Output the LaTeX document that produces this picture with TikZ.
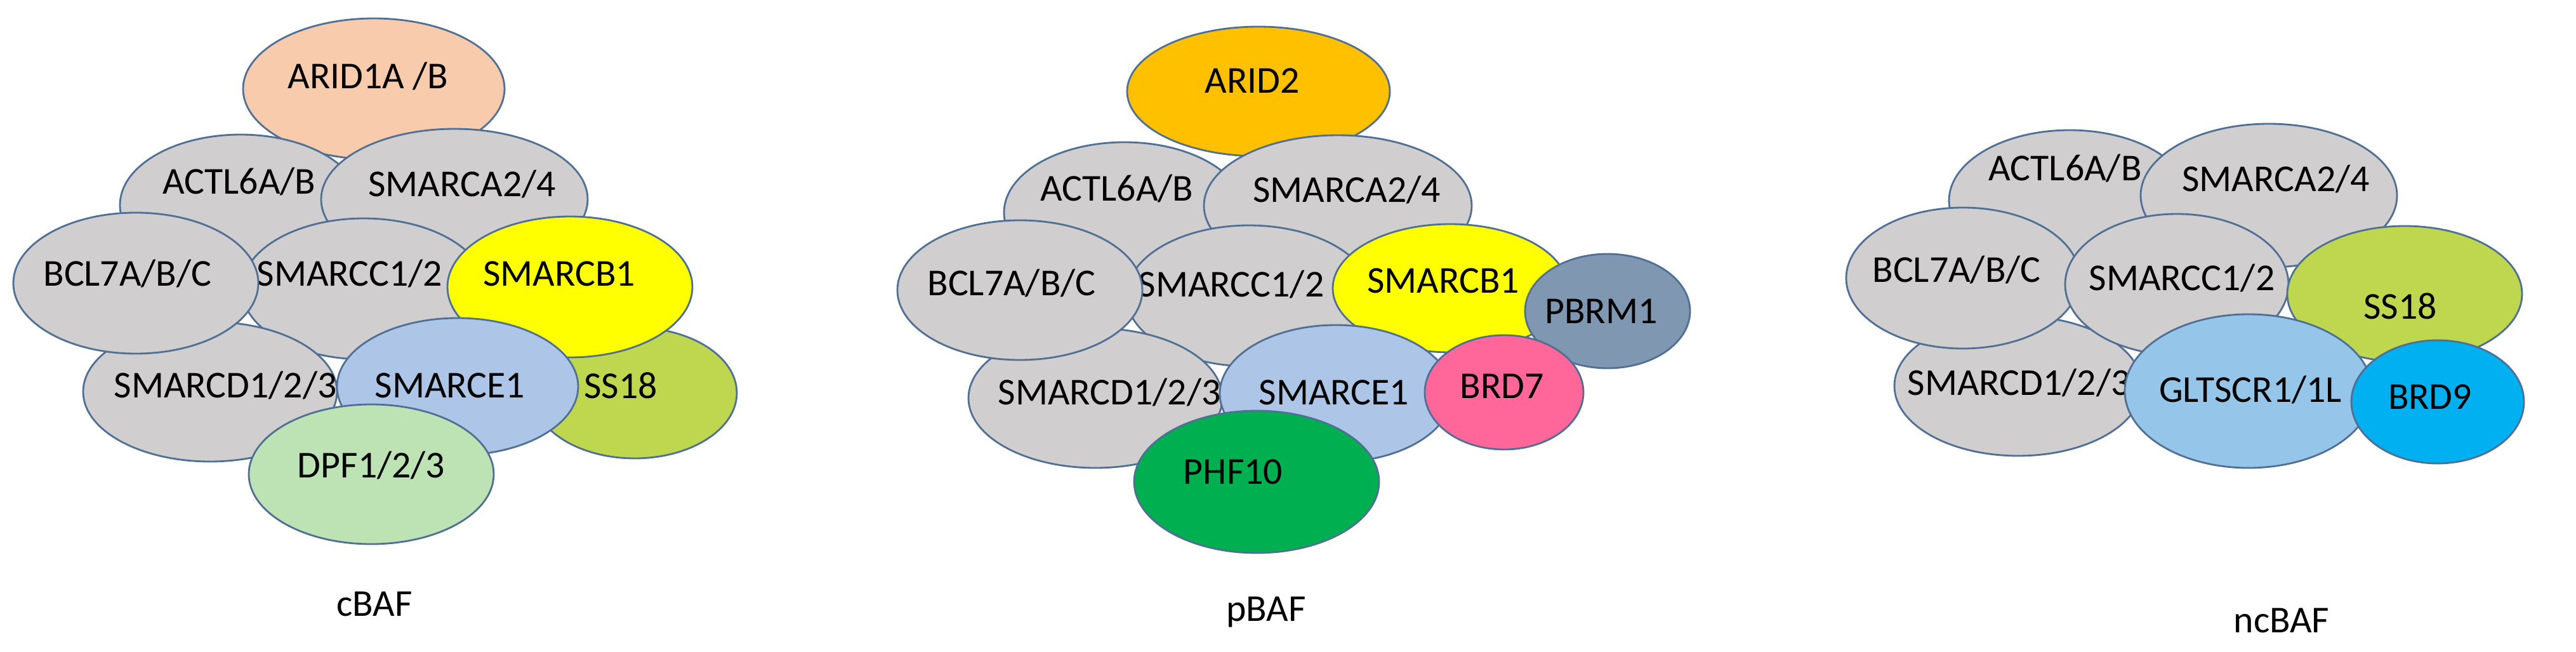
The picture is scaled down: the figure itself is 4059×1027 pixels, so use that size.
\documentclass[tikz,border=0pt]{standalone}
\usepackage{fontspec}
\setmainfont{Carlito}
\definecolor{gr}{HTML}{D0CECE}
\definecolor{ln}{HTML}{4F6F94}
\definecolor{arida}{HTML}{F8CBAD}
\definecolor{aridb}{HTML}{FFC000}
\definecolor{sb}{HTML}{FFFF00}
\definecolor{se}{HTML}{ADC6E8}
\definecolor{ss}{HTML}{BFD74E}
\definecolor{dpf}{HTML}{BDE3B5}
\definecolor{pb}{HTML}{7F97B0}
\definecolor{brds}{HTML}{FF6699}
\definecolor{phf}{HTML}{00B050}
\definecolor{gl}{HTML}{95C6EA}
\definecolor{brdn}{HTML}{00B0F0}
\tikzset{blob/.style={draw=ln,line width=0.8pt},
  lab/.style={font=\fontsize{17}{20}\selectfont,inner sep=0pt}}
\newcommand{\blb}[9]{\path[blob,fill=#6] (#2,#3) ellipse ({#4} and {#5});
  \node[lab] (#1) at (#8,#9) {#7};}
\begin{document}
\begin{tikzpicture}[x=0.01cm,y=-0.01cm]
\useasboundingbox[fill=white] (0,0) rectangle (4059,1027);
% cBAF
\blb{aa}{589}{140}{206}{111}{arida}{ARID1A /B}{580}{120}
\blb{ab}{379}{323}{190}{111}{gr}{ACTL6A/B}{377}{286}
\blb{ac}{716}{314}{210}{111}{gr}{SMARCA2/4}{728}{290}
\blb{ad}{573}{455}{192}{111}{gr}{SMARCC1/2}{551}{431}
\blb{ae}{331}{617}{200}{110}{gr}{SMARCD1/2/3}{355}{607}
\blb{af}{214}{446}{193}{111}{gr}{BCL7A/B/C}{201}{431}
\blb{ag}{1000}{619}{161}{103}{ss}{SS18}{978}{607}
\blb{ah}{898}{452}{193}{111}{sb}{SMARCB1}{881}{431}
\blb{ai}{721}{609}{190}{108}{se}{SMARCE1}{709}{607}
\blb{aj}{585}{747}{193}{110}{dpf}{DPF1/2/3}{585}{733}
\node[lab] (at) at (590,952) {cBAF};
% pBAF
\blb{ba}{1983}{144}{207}{102}{aridb}{ARID2}{1973}{127}
\blb{bb}{1772}{335}{190}{111}{gr}{ACTL6A/B}{1760}{297}
\blb{bc}{2108}{324}{211}{111}{gr}{SMARCA2/4}{2122}{299}
\blb{bd}{1968}{466}{193}{111}{gr}{SMARCC1/2}{1940}{448}
\blb{be}{1726}{627}{200}{110}{gr}{SMARCD1/2/3}{1748}{618}
\blb{bf}{1607}{457}{193}{110}{gr}{BCL7A/B/C}{1594}{446}
\blb{bg}{2285}{454}{185}{101}{sb}{SMARCB1}{2274}{442}
\blb{bh}{2533}{490}{130}{90}{pb}{PBRM1}{2523}{490}
\blb{bi}{2105}{620}{183}{108}{se}{SMARCE1}{2102}{618}
\blb{bj}{2370}{618}{125}{90}{brds}{BRD7}{2367}{608}
\blb{bk}{1980}{759}{193}{112}{phf}{PHF10}{1943}{743}
\node[lab] (bt) at (1995,964) {pBAF};
% ncBAF
\blb{cb}{3261}{316}{190}{111}{gr}{ACTL6A/B}{3254}{265}
\blb{cc}{3575}{308}{202}{113}{gr}{SMARCA2/4}{3586}{282}
\blb{ce}{3180}{608}{195}{110}{gr}{SMARCD1/2/3}{3181}{603}
\blb{cf}{3093}{438}{184}{111}{gr}{BCL7A/B/C}{3083}{425}
\blb{cd}{3430}{448}{176}{111}{gr}{SMARCC1/2}{3438}{438}
\blb{cg}{3789}{463}{185}{107}{ss}{SS18}{3782}{482}
\blb{ch}{3543}{616}{195}{121}{gl}{GLTSCR1/1L}{3546}{614}
\blb{ci}{3841}{633}{136}{97}{brdn}{BRD9}{3829}{625}
\node[lab] (ct) at (3595,978) {ncBAF};
\end{tikzpicture}
\end{document}
